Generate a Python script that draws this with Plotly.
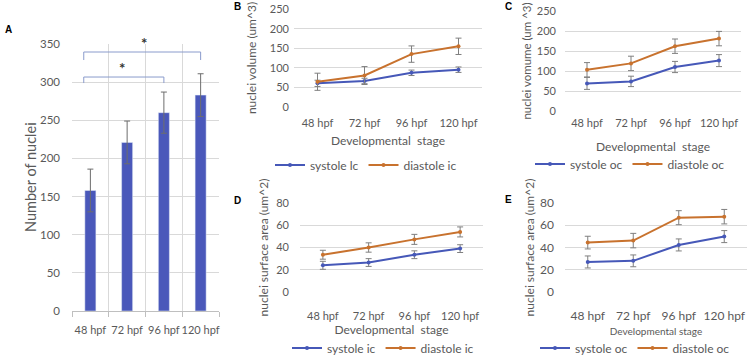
import plotly.graph_objects as go

stages = ["48 hpf", "72 hpf", "96 hpf", "120 hpf"]

# Panel A
nuclei_count = [158, 221, 260, 283]
nuclei_count_err = [28, 28, 27, 28]

# Panel B (inner curvature)
vol_sys_ic = [60, 66, 87, 95]
vol_sys_ic_err = [8, 7, 7, 7]
vol_dia_ic = [64, 80, 135, 155]
vol_dia_ic_err = [22, 23, 21, 21]

# Panel C (outer curvature)
vol_sys_oc = [69, 74, 110, 126]
vol_sys_oc_err = [15, 13, 14, 15]
vol_dia_oc = [103, 119, 162, 181]
vol_dia_oc_err = [18, 18, 18, 18]

# Panel D
area_sys_ic = [24, 26.5, 33.5, 39]
area_sys_ic_err = [3.6, 3.5, 3.5, 3.5]
area_dia_ic = [33.5, 40, 47.3, 54]
area_dia_ic_err = [4, 4.2, 4.5, 4.5]

# Panel E
area_sys_oc = [27, 28, 42.3, 49.8]
area_sys_oc_err = [5.4, 5.3, 5.4, 5.4]
area_dia_oc = [44.4, 46.2, 66.8, 67.7]
area_dia_oc_err = [5.7, 6.5, 6.3, 6.5]

W, H = 749, 358
FONT = "Lato, 'Open Sans', sans-serif"
TXT = "#595959"
GRID = "#d9d9d9"
BLUE = "#4658b8"
ORANGE = "#c8722e"
ERR = "#7f7f7f"

def px_x(a, b):
    return [a / W, b / W]

def px_y(top, bottom):
    return [1 - bottom / H, 1 - top / H]

fig = go.Figure()

# Panel A bars
fig.add_trace(go.Bar(
    x=stages, y=nuclei_count, width=0.3, marker_color="#4a58ba",
    error_y=dict(type="data", array=nuclei_count_err, color="#6d6d6d", thickness=1, width=3),
    xaxis="x", yaxis="y", showlegend=False))

def add_lines(xa, ya, leg, sys, sys_err, dia, dia_err, sys_name, dia_name):
    fig.add_trace(go.Scatter(
        x=stages, y=sys, mode="lines+markers", name=sys_name,
        line=dict(color=BLUE, width=2), marker=dict(size=4, color=BLUE),
        error_y=dict(type="data", array=sys_err, color=ERR, thickness=1, width=3),
        xaxis=xa, yaxis=ya, legend=leg))
    fig.add_trace(go.Scatter(
        x=stages, y=dia, mode="lines+markers", name=dia_name,
        line=dict(color=ORANGE, width=2), marker=dict(size=4, color=ORANGE),
        error_y=dict(type="data", array=dia_err, color=ERR, thickness=1, width=3),
        xaxis=xa, yaxis=ya, legend=leg))

add_lines("x2", "y2", "legend", vol_sys_ic, vol_sys_ic_err, vol_dia_ic, vol_dia_ic_err, "systole lc", "diastole ic")
add_lines("x3", "y3", "legend2", vol_sys_oc, vol_sys_oc_err, vol_dia_oc, vol_dia_oc_err, "systole oc", "diastole oc")
add_lines("x4", "y4", "legend3", area_sys_ic, area_sys_ic_err, area_dia_ic, area_dia_ic_err, "systole ic", "diastole ic")
add_lines("x5", "y5", "legend4", area_sys_oc, area_sys_oc_err, area_dia_oc, area_dia_oc_err, "systole oc", "diastole oc")

def xcat(domain, anchor, size=11, title=None, tsize=12, lso=6, tso=4):
    d = dict(domain=domain, anchor=anchor, type="category", range=[-0.5, 3.5],
             showgrid=False, showline=False, zeroline=False, ticks="", automargin=False,
             tickangle=0, ticklabelstandoff=lso,
             tickfont=dict(family=FONT, size=size, color=TXT), fixedrange=True)
    if title:
        d["title"] = dict(text=title, font=dict(family=FONT, size=tsize, color=TXT), standoff=tso)
    return d

def yval(domain, anchor, rng, dtick, title, size=11, tsize=12, standoff=10, lso=4):
    return dict(domain=domain, anchor=anchor, range=rng, dtick=dtick, showgrid=True,
                gridcolor=GRID, gridwidth=1, zeroline=False, showline=False, ticks="",
                automargin=False, ticklabelstandoff=lso,
                tickfont=dict(family=FONT, size=size, color=TXT),
                title=dict(text=title, font=dict(family=FONT, size=tsize, color=TXT), standoff=standoff),
                fixedrange=True)

layout = dict(
    width=W, height=H, margin=dict(l=0, r=0, t=0, b=0, autoexpand=False),
    paper_bgcolor="white", plot_bgcolor="white",
    font=dict(family=FONT, color=TXT), bargap=0.7,
)

# Panel A axes
layout["xaxis"] = dict(domain=px_x(72, 219), anchor="y", type="category", range=[-0.5, 3.5],
                       tickson="boundaries", showgrid=True, gridcolor=GRID,
                       showline=True, linecolor="#bfbfbf", ticks="outside", ticklen=5,
                       tickcolor="#bfbfbf", tickangle=0, automargin=False,
                       ticklabelstandoff=9,
                       tickfont=dict(family=FONT, size=11, color=TXT),
                       fixedrange=True)
layout["yaxis"] = dict(domain=px_y(44, 311), anchor="x", range=[0, 350], dtick=50,
                       showgrid=True, gridcolor=GRID, zeroline=False, ticks="",
                       automargin=False, ticklabelstandoff=11,
                       tickfont=dict(family=FONT, size=11.5, color=TXT),
                       fixedrange=True)

layout["xaxis2"] = xcat(px_x(294, 482), "y2", size=11, title="Developmental  stage", tsize=12, lso=8, tso=8)
layout["yaxis2"] = yval(px_y(9.3, 106.7), "x2", [0, 250], 50, "nuclei volume (um^3)")
layout["xaxis3"] = xcat(px_x(565, 741), "y3", size=11, title="Developmental  stage", tsize=12, lso=4, tso=14)
layout["yaxis3"] = yval(px_y(11, 111), "x3", [0, 250], 50, "nuclei vomume (um ^3)", lso=8, tsize=11.5, standoff=2)
layout["xaxis4"] = xcat(px_x(300, 483), "y4", size=11, title="Developmental  stage", tsize=12, lso=16, tso=4)
layout["yaxis4"] = yval(px_y(203, 292), "x4", [0, 80], 20, "nuclei surface area (um^2)", lso=10, standoff=5)
layout["xaxis5"] = xcat(px_x(565, 747), "y5", size=12, title="Developmental stage", tsize=10, lso=15, tso=5)
layout["yaxis5"] = yval(px_y(203, 292), "x5", [0, 80], 20, "nuclei surface area (um^2)", size=12, lso=10, standoff=2)

def leg(cx, cy):
    return dict(orientation="h", x=cx / W, y=1 - cy / H, xanchor="center", yanchor="middle",
                font=dict(family=FONT, size=12, color=TXT), bgcolor="rgba(0,0,0,0)",
                itemwidth=30, tracegroupgap=0)

layout["legend"] = leg(366, 165)
layout["legend2"] = leg(630, 164)
layout["legend3"] = leg(383, 348)
layout["legend4"] = leg(635, 348)

fig.update_layout(**layout)

# Panel A y-axis title
fig.add_annotation(x=31 / W, y=1 - 177 / H, xref="paper", yref="paper", text="Number of nuclei",
                   textangle=-90, showarrow=False, font=dict(family=FONT, size=14.5, color=TXT),
                   xanchor="center", yanchor="middle")

# Significance brackets in panel A
BR = "#8a9bcc"
for x1, ytop, ybot in [(3.0, 339.5, 329), (2.0, 306.7, 298.8)]:
    fig.add_shape(type="path", xref="x", yref="y",
                  path=f"M -0.18 {ybot} L -0.18 {ytop} L {x1} {ytop} L {x1} {ybot}",
                  line=dict(color=BR, width=1))
fig.add_annotation(x=1.46, y=337, xref="x", yref="y", text="<b>*</b>", showarrow=False,
                   font=dict(family=FONT, size=15, color="#333333"), yanchor="bottom")
fig.add_annotation(x=0.86, y=304, xref="x", yref="y", text="<b>*</b>", showarrow=False,
                   font=dict(family=FONT, size=15, color="#333333"), yanchor="bottom")

# Panel labels
for lab, lx, ly in [("A", 8, 29), ("B", 237, 6), ("C", 508, 6), ("D", 238, 200), ("E", 508, 199)]:
    fig.add_annotation(x=lx / W, y=1 - ly / H, xref="paper", yref="paper", text=f"<b>{lab}</b>",
                       showarrow=False, font=dict(family="Liberation Sans", size=10, color="black"),
                       xanchor="center", yanchor="middle")

fig.write_html("out.html", config={"displayModeBar": False},
               post_script="document.body.style.margin='0';")
